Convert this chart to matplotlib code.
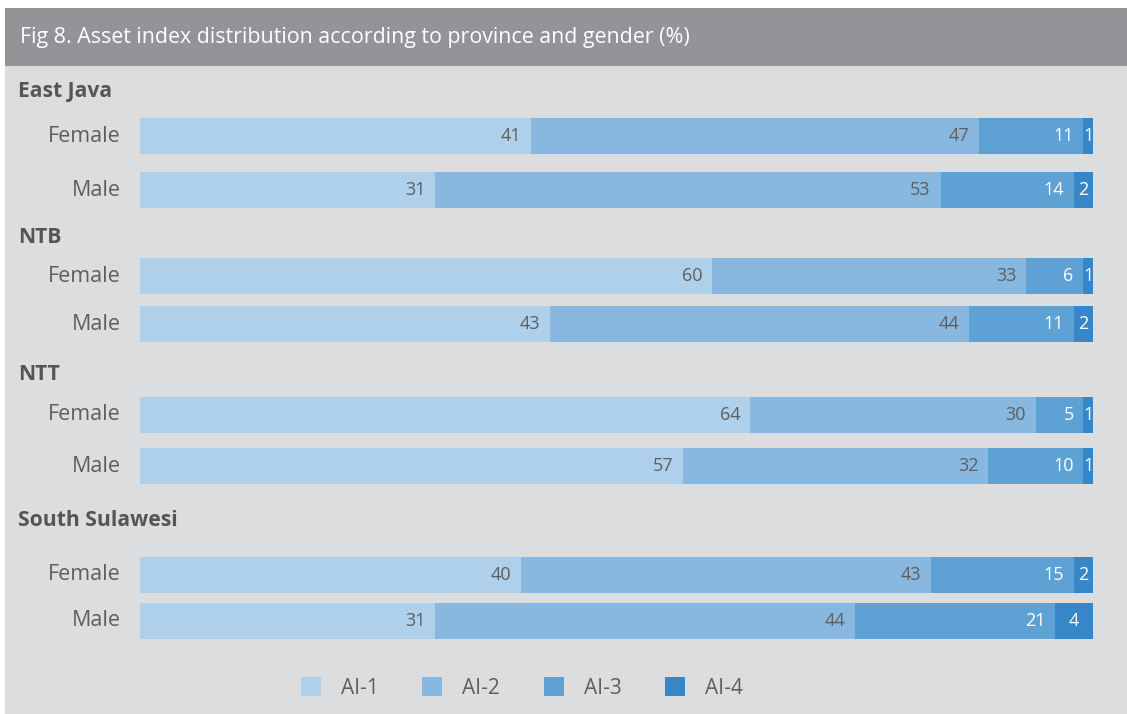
import matplotlib
matplotlib.use('Agg')
import matplotlib.pyplot as plt
from matplotlib.patches import Rectangle, Patch

plt.rcParams['font.family'] = ['Open Sans', 'DejaVu Sans']

# asset index shares (%) per province / gender
provinces = ['East Java', 'NTB', 'NTT', 'South Sulawesi']
genders = ['Female', 'Male', 'Female', 'Male', 'Female', 'Male', 'Female', 'Male']
ai1 = [41, 31, 60, 43, 64, 57, 40, 31]
ai2 = [47, 53, 33, 44, 30, 32, 43, 44]
ai3 = [11, 14, 6, 11, 5, 10, 15, 21]
ai4 = [1, 2, 1, 2, 1, 1, 2, 4]
series_names = ['AI-1', 'AI-2', 'AI-3', 'AI-4']

colors = ['#afd0ea', '#88b8e0', '#5ea1d4', '#3787c8']
text_dark = '#5d5e60'

W, H = 1127, 714
fig = plt.figure(figsize=(W / 100, H / 100), dpi=100)
fig.patch.set_facecolor('white')

# panel background and title bar (pixel layout)
fig.add_artist(Rectangle((5 / W, 0), 1 - 5 / W, 1 - 8 / H, transform=fig.transFigure,
                         facecolor='#dcdddf', edgecolor='none', zorder=0))
fig.add_artist(Rectangle((5 / W, 1 - 66 / H), 1 - 5 / W, 58 / H, transform=fig.transFigure,
                         facecolor='#939498', edgecolor='none', zorder=0))
fig.text(20 / W, 1 - 38 / H, 'Fig 8. Asset index distribution according to province and gender (%)',
         color='white', fontsize=15.4, va='center', ha='left')

ax = fig.add_axes([140 / W, 0, 953 / W, 1])
ax.set_facecolor('none')
ax.set_xlim(0, 100)
ax.set_ylim(H, 0)
ax.axis('off')

bar_y = [136, 190, 276, 324, 415, 466, 575, 621]
group_y = [92, 238, 375, 521]
bar_h = 36

left = [0] * len(ai1)
for k, vals in enumerate([ai1, ai2, ai3, ai4]):
    ax.barh(bar_y, vals, left=left, height=bar_h, color=colors[k], edgecolor='none')
    tcol = text_dark if k < 2 else 'white'
    for i, v in enumerate(vals):
        if k == 3:
            ax.text(left[i] + v / 2, bar_y[i], str(v), color=tcol, fontsize=13,
                    ha='center', va='center')
        else:
            ax.annotate(str(v), (left[i] + v, bar_y[i]), xytext=(-7, 0),
                        textcoords='offset points', color=tcol, fontsize=13,
                        ha='right', va='center')
    left = [a + b for a, b in zip(left, vals)]

for i, g in enumerate(genders):
    ax.annotate(g, (0, bar_y[i]), xytext=(-14, 0), textcoords='offset points',
                color=text_dark, fontsize=15.5, ha='right', va='center')

for p, gy in zip(provinces, group_y):
    fig.text(18 / W, 1 - gy / H, p, color='#545557', fontsize=15.2, fontweight='bold',
             ha='left', va='center')

handles = [Patch(facecolor=c, edgecolor='none') for c in colors]
leg = fig.legend(handles, series_names, loc='center', bbox_to_anchor=(522 / W, 1 - 688 / H),
                 ncol=4, frameon=False, fontsize=15, handlelength=0.96, handleheight=0.96,
                 handletextpad=0.96, columnspacing=2.1, labelcolor=text_dark)

fig.savefig('out.png', dpi=100)
